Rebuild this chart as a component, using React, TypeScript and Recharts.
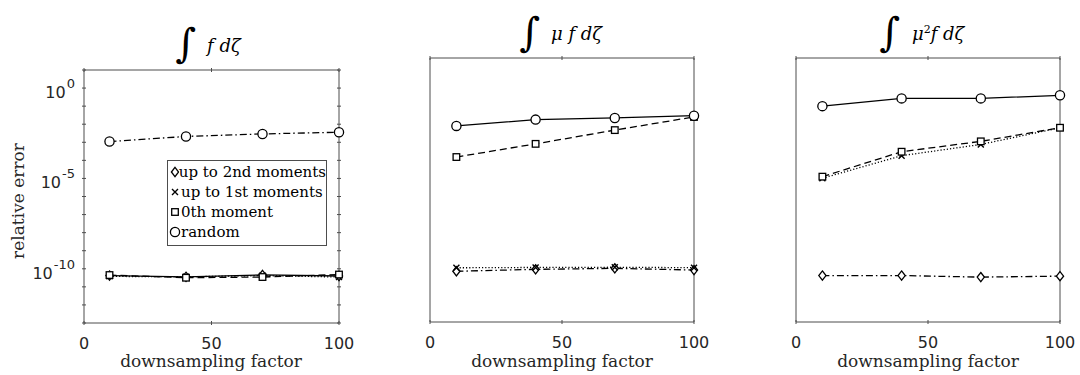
import React from "react";
import { LineChart, Line, XAxis, YAxis, Legend } from "recharts";

// downsampling factors
const factors = [10, 40, 70, 100];

// panel 1: ∫ f dζ
const p1Second = [4.2e-11, 3.6e-11, 4.6e-11, 4.0e-11];
const p1First = [3.8e-11, 3.6e-11, 4.2e-11, 3.5e-11];
const p1Zeroth = [4.5e-11, 3.2e-11, 3.5e-11, 4.8e-11];
const p1Random = [1.1e-3, 2.1e-3, 2.9e-3, 3.6e-3];

// panel 2: ∫ μ f dζ
const p2Second = [4.9e-11, 6.2e-11, 7.0e-11, 5.7e-11];
const p2First = [7.5e-11, 7.8e-11, 8.0e-11, 7.6e-11];
const p2Zeroth = [5.6e-5, 2.8e-4, 1.5e-3, 7.5e-3];
const p2Random = [2.5e-3, 5.4e-3, 6.6e-3, 8.7e-3];

// panel 3: ∫ μ² f dζ
const p3Second = [2.9e-11, 2.9e-11, 2.4e-11, 2.7e-11];
const p3First = [4.2e-6, 6.6e-5, 2.6e-4, 2.0e-3];
const p3Zeroth = [5.1e-6, 1.07e-4, 3.8e-4, 2.0e-3];
const p3Random = [2.8e-2, 7.2e-2, 7.2e-2, 1.05e-1];

const seriesNames = ["up to 2nd moments", "up to 1st moments", "0th moment", "random"];
const seriesKeys = ["s2", "s1", "s0", "rnd"];
const markers = ["diamond", "x", "square", "circle"];

const xTicks = [0, 50, 100];
const yTicks = [1e-13, 1e-12, 1e-11, 1e-10, 1e-9, 1e-8, 1e-7, 1e-6, 1e-5, 1e-4, 1e-3, 1e-2, 1e-1, 1, 10];
const yDomain = [1e-13, 10];

const BOX = "#4d4d4d";
const TXT = "#262626";
const SERIF = "'DejaVu Serif', serif";
const SANS = "'DejaVu Sans', sans-serif";

const dashes: Record<string, string | undefined> = {
  solid: undefined,
  dashed: "7 4",
  dotted: "1.2 2",
  dashdot: "7 3 1.5 3",
};

function buildRows(a: number[], b: number[], c: number[], d: number[]) {
  return factors.map((x, i) => ({ x, s2: a[i], s1: b[i], s0: c[i], rnd: d[i] }));
}

function Marker({ kind, cx, cy }: { kind: string; cx: number; cy: number }) {
  if (cx == null || cy == null) return null;
  const st = { stroke: "#000", strokeWidth: 1.3, fill: "#fff" };
  if (kind === "circle") return <circle cx={cx} cy={cy} r={4.6} {...st} />;
  if (kind === "square") return <rect x={cx - 3.3} y={cy - 3.3} width={6.6} height={6.6} {...st} />;
  if (kind === "diamond")
    return <path d={`M${cx},${cy - 4.6}L${cx + 3.6},${cy}L${cx},${cy + 4.6}L${cx - 3.6},${cy}Z`} {...st} />;
  return (
    <path
      d={`M${cx - 3},${cy - 3}L${cx + 3},${cy + 3}M${cx - 3},${cy + 3}L${cx + 3},${cy - 3}`}
      stroke="#000"
      strokeWidth={1.4}
      fill="none"
    />
  );
}

function BottomTick(props: any) {
  const { x, y, payload } = props;
  return (
    <g>
      <line x1={x} y1={y} x2={x} y2={y - 4} stroke={BOX} />
      <text x={x} y={y + 24} textAnchor="middle" fontFamily={SANS} fontSize={16} fill={TXT}>
        {payload.value}
      </text>
    </g>
  );
}

function TopTick(props: any) {
  const { x, y } = props;
  return <line x1={x} y1={y} x2={x} y2={y + 4} stroke={BOX} />;
}

function LeftTick(props: any) {
  const { x, y, payload } = props;
  const exp = Math.round(Math.log10(payload.value));
  return (
    <g>
      <line x1={x} y1={y} x2={x + 4} y2={y} stroke={BOX} />
      {exp % 5 === 0 && (
        <text x={x - 7} y={y + 10} textAnchor="end" fontFamily={SANS} fontSize={16} fill={TXT}>
          10
          <tspan fontSize={13} dy={-10} dx={1}>
            {exp}
          </tspan>
        </text>
      )}
    </g>
  );
}

function RightTick(props: any) {
  const { x, y } = props;
  return <line x1={x} y1={y} x2={x - 4} y2={y} stroke={BOX} />;
}

function LegendBox() {
  return (
    <div
      style={{
        border: `1px solid ${BOX}`,
        background: "#fff",
        width: 158,
        padding: "1px 0 3px 0",
        fontFamily: SERIF,
        fontSize: 15,
        color: "#000",
        lineHeight: "20px",
      }}
    >
      {seriesNames.map((n, i) => (
        <div key={n} style={{ display: "flex", alignItems: "center", height: 20, whiteSpace: "nowrap" }}>
          <svg width={12} height={14} style={{ marginLeft: 1 }}>
            <Marker kind={markers[i]} cx={6} cy={7} />
          </svg>
          <span style={{ fontFamily: SERIF }}>{n}</span>
        </div>
      ))}
    </div>
  );
}

type PanelProps = {
  rows: any[];
  left: number;
  top: number;
  w: number;
  h: number;
  styles: string[];
  yLabels: boolean;
  legend?: { left: number; top: number };
};

// outer space round each plot box: axis size + margin
const axL = 60;
const axB = 30;
const axT = 2;
const axR = 2;
const mg = 8;
const mgR = 24;

function Panel({ rows, left, top, w, h, styles, yLabels, legend }: PanelProps) {
  const ox = left - axL - mg;
  const oy = top - axT - mg;
  return (
    <div style={{ position: "absolute", left: ox, top: oy }}>
      <LineChart
        width={w + axL + axR + mg + mgR}
        height={h + axT + axB + 2 * mg}
        data={rows}
        margin={{ top: mg, right: mgR, bottom: mg, left: mg }}
      >
        <XAxis
          xAxisId="b"
          dataKey="x"
          type="number"
          domain={[0, 100]}
          ticks={xTicks}
          interval={0}
          height={axB}
          tickSize={0}
          tickLine={false}
          axisLine={{ stroke: BOX }}
          tick={<BottomTick />}
        />
        <XAxis
          xAxisId="t"
          orientation="top"
          dataKey="x"
          type="number"
          domain={[0, 100]}
          ticks={xTicks}
          interval={0}
          height={axT}
          tickSize={0}
          tickLine={false}
          axisLine={{ stroke: BOX }}
          tick={<TopTick />}
        />
        <YAxis
          yAxisId="l"
          scale="log"
          type="number"
          domain={yDomain}
          allowDataOverflow
          ticks={yTicks}
          interval={0}
          width={axL}
          tickSize={0}
          tickLine={false}
          axisLine={{ stroke: BOX }}
          tick={yLabels ? <LeftTick /> : false}
        />
        <YAxis
          yAxisId="r"
          orientation="right"
          scale="log"
          type="number"
          domain={yDomain}
          allowDataOverflow
          ticks={yTicks}
          interval={0}
          width={axR}
          tickSize={0}
          tickLine={false}
          axisLine={{ stroke: BOX }}
          tick={yLabels ? <RightTick /> : false}
        />
        {seriesKeys.map((k, i) => (
          <Line
            key={k}
            xAxisId="b"
            yAxisId="l"
            dataKey={k}
            name={seriesNames[i]}
            stroke="#000"
            strokeWidth={1.3}
            strokeDasharray={dashes[styles[i]]}
            isAnimationActive={false}
            dot={(p: any) => <Marker key={`${k}-${p.index}`} kind={markers[i]} cx={p.cx} cy={p.cy} />}
            activeDot={false}
          />
        ))}
        {legend && (
          <Legend
            layout="vertical"
            align="center"
            verticalAlign="middle"
            content={<LegendBox />}
            wrapperStyle={{ position: "absolute", left: legend.left - ox, top: legend.top - oy, width: "auto" }}
          />
        )}
      </LineChart>
    </div>
  );
}

const rows1 = buildRows(p1Second, p1First, p1Zeroth, p1Random);
const rows2 = buildRows(p2Second, p2First, p2Zeroth, p2Random);
const rows3 = buildRows(p3Second, p3First, p3Zeroth, p3Random);

export default function App() {
  return (
    <div style={{ position: "absolute", left: 0, top: 0, width: 1080, height: 375, background: "#fff", overflow: "hidden" }}>
      <Panel rows={rows1} left={84} top={70} w={255} h={253} styles={["solid", "dotted", "dashed", "dashdot"]} yLabels legend={{ left: 167, top: 160 }} />
      <Panel rows={rows2} left={430} top={58} w={264} h={264} styles={["dashdot", "dotted", "dashed", "solid"]} yLabels={false} />
      <Panel rows={rows3} left={796} top={58} w={264} h={264} styles={["dashdot", "dotted", "dashed", "solid"]} yLabels={false} />
      <svg width={1080} height={375} style={{ position: "absolute", left: 0, top: 0, pointerEvents: "none" }}>
        <g fontFamily={SERIF} fill="#000">
          <text x={186} y={57} fontSize={40} textAnchor="middle">∫</text>
          <text x={207} y={52} fontSize={18} fontStyle="italic">f dζ</text>
          <text x={530} y={46} fontSize={40} textAnchor="middle">∫</text>
          <text x={551} y={40} fontSize={18} fontStyle="italic">μ f dζ</text>
          <text x={890} y={46} fontSize={40} textAnchor="middle">∫</text>
          <text x={912} y={40} fontSize={18} fontStyle="italic">
            μ<tspan fontSize={11} dy={-7} fontStyle="normal">2</tspan>
            <tspan dy={7}>f dζ</tspan>
          </text>
          <text x={211} y={367} fontSize={17} textAnchor="middle" fill={TXT}>downsampling factor</text>
          <text x={562} y={367} fontSize={17} textAnchor="middle" fill={TXT}>downsampling factor</text>
          <text x={928} y={367} fontSize={17} textAnchor="middle" fill={TXT}>downsampling factor</text>
          <text transform="translate(24,201) rotate(-90)" fontSize={17} textAnchor="middle" fill={TXT}>relative error</text>
        </g>
      </svg>
    </div>
  );
}
